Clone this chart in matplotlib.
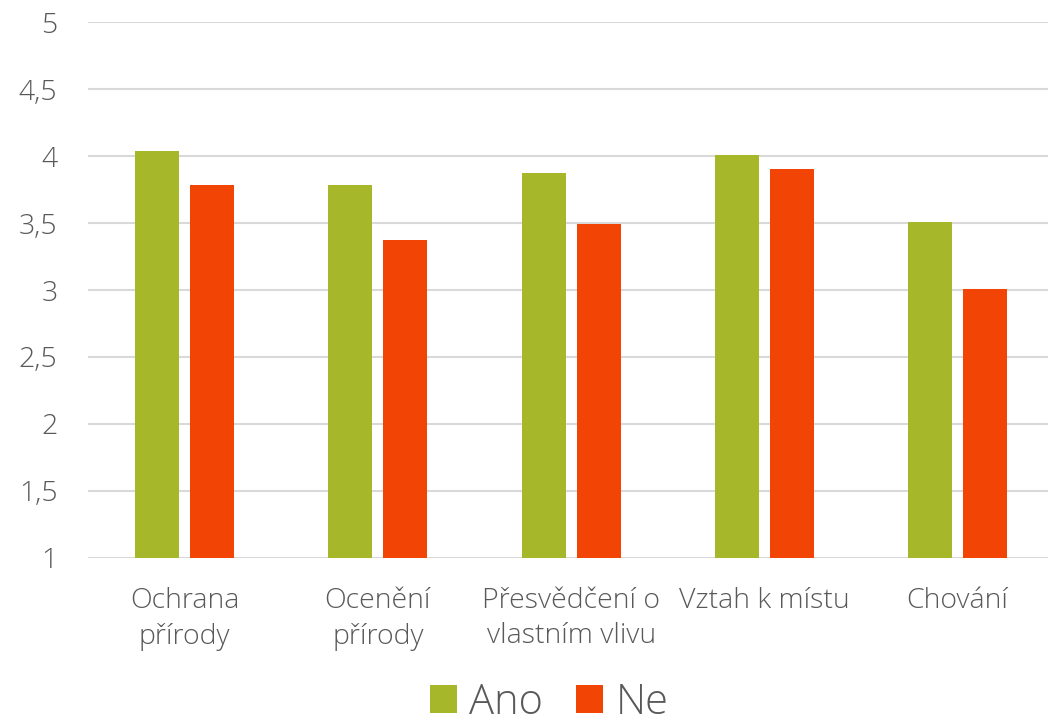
import numpy as np
import matplotlib
matplotlib.use("Agg")
from matplotlib import pyplot as plt

categories = ["Ochrana\npřírody", "Ocenění\npřírody", "Přesvědčení o\nvlastním vlivu",
              "Vztah k místu", "Chování"]
ano = [4.04, 3.78, 3.87, 4.01, 3.51]
ne = [3.78, 3.37, 3.49, 3.90, 3.01]
yticks = [1, 1.5, 2, 2.5, 3, 3.5, 4, 4.5, 5]
ytick_labels = ["1", "1,5", "2", "2,5", "3", "3,5", "4", "4,5", "5"]

plt.rcParams["font.family"] = ["Open Sans", "DejaVu Sans"]
text_color = "#595959"
green = "#A6B82A"
red = "#F24405"

fig = plt.figure(figsize=(10.48, 7.27), dpi=100)
ax = fig.add_axes([0.084, 0.2325, 0.922, 0.7372])

x = np.arange(len(categories))
w = 0.228
off = 0.1424
ax.bar(x - off, ano, width=w, bottom=0, color=green, label="Ano", zorder=3)
ax.bar(x + off, ne, width=w, bottom=0, color=red, label="Ne", zorder=3)

ax.set_ylim(1, 5)
ax.set_xlim(-0.5, len(categories) - 0.5)
ax.set_yticks(yticks)
ax.set_yticklabels(ytick_labels)
ax.set_xticks(x)
ax.set_xticklabels(categories, linespacing=1.35)
ax.yaxis.grid(True, color="#D9D9D9", linewidth=1.5, zorder=0)
for s in ax.spines.values():
    s.set_visible(False)
ax.tick_params(axis="both", length=0, labelsize=20.5, labelcolor=text_color)
ax.tick_params(axis="y", pad=22)
ax.tick_params(axis="x", pad=21)
for lbl in ax.get_xticklabels() + ax.get_yticklabels():
    lbl.set_fontweight("light")

# legend sits right at the bottom edge, like in the original
leg = fig.legend(loc="center", bbox_to_anchor=(0.524, 0.034), ncol=2, frameon=False,
                 fontsize=30, handlelength=0.65, handleheight=0.65, handletextpad=0.3,
                 columnspacing=0.8, borderpad=0)
for t in leg.get_texts():
    t.set_color(text_color)
    t.set_fontweight("light")

fig.savefig("out.png", dpi=100)
plt.close(fig)
